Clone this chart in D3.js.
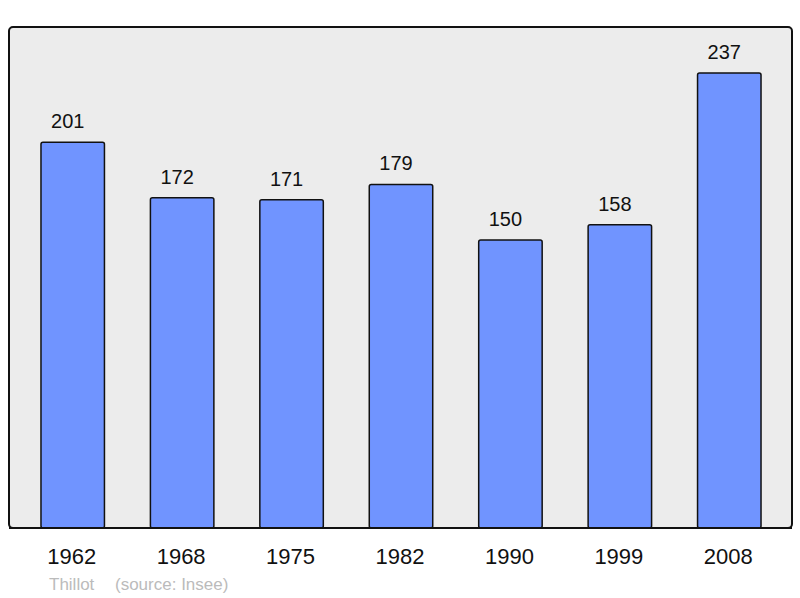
<!DOCTYPE html>
<html>
<head>
<meta charset="utf-8">
<script src="https://cdn.jsdelivr.net/npm/d3@7"></script>
<style>
  body { margin: 0; background: #fff; }
  svg { display: block; font-family: "Liberation Sans", Arial, sans-serif; }
</style>
</head>
<body>
<div id="chart"></div>
<script>
// Data
const years = ["1962", "1968", "1975", "1982", "1990", "1999", "2008"];
const population = [201, 172, 171, 179, 150, 158, 237];
const sourceText = ["Thillot", "(source: Insee)"];

const width = 800;
const height = 598;

const frame = { left: 9, top: 27, right: 792, bottom: 528 };

const svg = d3.select("#chart")
    .append("svg")
    .attr("width", width)
    .attr("height", height);

// Scales
const x = d3.scaleBand()
    .domain(years)
    .range([18, 784])
    .paddingInner(0.42)
    .paddingOuter(0.21);

const y = d3.scaleLinear()
    .domain([0, 261])
    .range([frame.bottom, frame.top]);

// Plot frame
svg.append("rect")
    .attr("x", frame.left)
    .attr("y", frame.top)
    .attr("width", frame.right - frame.left)
    .attr("height", frame.bottom - frame.top)
    .attr("rx", 4)
    .attr("fill", "#ececec")
    .attr("stroke", "#111")
    .attr("stroke-width", 2);

// Bars
svg.append("g")
    .selectAll("rect")
    .data(population)
    .join("rect")
    .attr("x", (d, i) => x(years[i]))
    .attr("y", d => y(d))
    .attr("width", x.bandwidth())
    .attr("height", d => y(0) - y(d))
    .attr("rx", 2)
    .attr("fill", "#7094ff")
    .attr("stroke", "#111")
    .attr("stroke-width", 1.5);

// redraw bottom border over bars
svg.append("line")
    .attr("x1", frame.left)
    .attr("x2", frame.right)
    .attr("y1", frame.bottom)
    .attr("y2", frame.bottom)
    .attr("stroke", "#111")
    .attr("stroke-width", 2);

// Value labels
svg.append("g")
    .selectAll("text")
    .data(population)
    .join("text")
    .attr("x", (d, i) => x(years[i]) + x.bandwidth() / 2 - 5)
    .attr("y", d => y(d) - 14)
    .attr("text-anchor", "middle")
    .attr("font-size", 20)
    .attr("fill", "#111")
    .text(d => d);

// Year labels
svg.append("g")
    .selectAll("text")
    .data(years)
    .join("text")
    .attr("x", d => x(d) + x.bandwidth() / 2 - 1)
    .attr("y", 564)
    .attr("text-anchor", "middle")
    .attr("font-size", 22)
    .attr("fill", "#111")
    .text(d => d);

// Source
svg.append("g")
    .selectAll("text")
    .data(sourceText)
    .join("text")
    .attr("x", (d, i) => i === 0 ? 49 : 115)
    .attr("y", 590)
    .attr("font-size", 17)
    .attr("fill", "#bbb")
    .text(d => d);
</script>
</body>
</html>
